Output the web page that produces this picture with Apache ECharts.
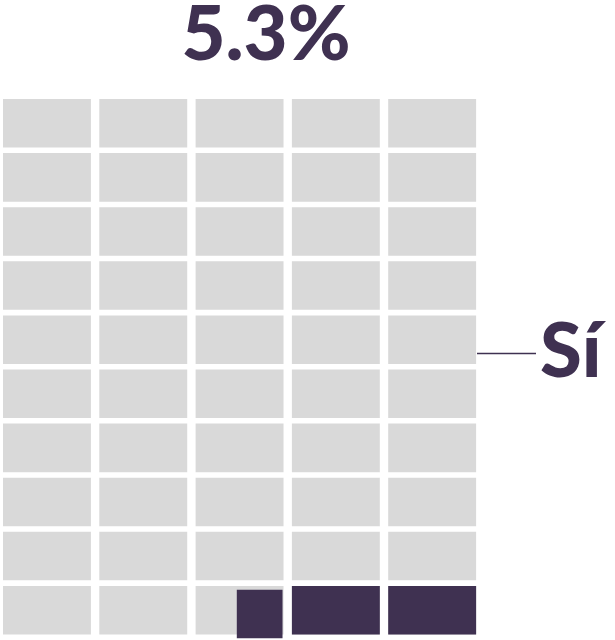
<!DOCTYPE html>
<html>
<head>
<meta charset="utf-8">
<script src="https://cdn.jsdelivr.net/npm/echarts@6/dist/echarts.min.js"></script>
<style>
	html, body { margin: 0; padding: 0; background: #fff; }
	#ec1 { width: 615px; height: 640px; }
</style>
</head>
<body>
<div id="ec1"></div>
<script>
// waffle 5 x 10, each cell = 2%
var nCols = 5;
var nRows = 10;
var valueText = '5.3%';
var seriesName = 'Sí';
// fill of each cell of the bottom row, filled from the right
var bottomRowFill = [0, 0, 0.52, 1, 1];

var darkColor = '#3f3151';
var greyColor = '#d9d9d9';

waffle();

function waffle(){
	var myCharts = echarts.init(document.getElementById('ec1'));

	var cells = [];
	for (var r = 0; r < nRows; r++) {
		for (var c = 0; c < nCols; c++) {
			var f = (r == nRows - 1) ? bottomRowFill[c] : 0;
			cells.push([c, r, f]);
		}
	}

	var cellW = 0.913;   // share of a column taken by a cell
	var cellH = 0.897;   // share of a row taken by a cell

	function renderCell(params, api){
		var c = api.value(0), r = api.value(1), f = api.value(2);
		var p0 = api.coord([c, r]);
		var p1 = api.coord([c + cellW, r + cellH]);
		var w = p1[0] - p0[0], h = p1[1] - p0[1];
		var children = [{
			type: 'rect',
			shape: {x: p0[0], y: p0[1], width: w, height: h},
			style: {fill: greyColor}
		}];
		if (f > 0) {
			var dy = f < 1 ? h * 0.08 : 0;
			children.push({
				type: 'rect',
				shape: {x: p0[0] + w * (1 - f) - (f < 1 ? 1 : 0), y: p0[1] + dy, width: w * f, height: h},
				style: {fill: darkColor}
			});
		}
		return {type: 'group', children: children};
	}

	var option = {
		animation: false,
		grid: {
			left: 3,
			top: 99,
			width: 481.5,
			height: 545
		},
		xAxis: {
			type: 'value', min: 0, max: nCols, show: false
		},
		yAxis: {
			type: 'value', min: 0, max: nRows, inverse: true, show: false
		},
		graphic: [
			{
				type: 'text',
				x: 266, y: 35,
				style: {
					text: valueText,
					fill: darkColor,
					font: '900 76px Lato',
					align: 'center',
					verticalAlign: 'middle'
				}
			},
			{
				type: 'line',
				shape: {x1: 477, y1: 353.5, x2: 536, y2: 353.5},
				style: {stroke: darkColor, lineWidth: 1.5}
			},
			{
				type: 'text',
				x: 540, y: 352,
				style: {
					text: seriesName,
					fill: darkColor,
					font: '900 76px Lato',
					align: 'left',
					verticalAlign: 'middle'
				}
			}
		],
		series: [
			{
				type: 'custom',
				renderItem: renderCell,
				clip: false,
				data: cells
			}
		]
	};
	myCharts.setOption(option);
}
</script>
</body>
</html>
